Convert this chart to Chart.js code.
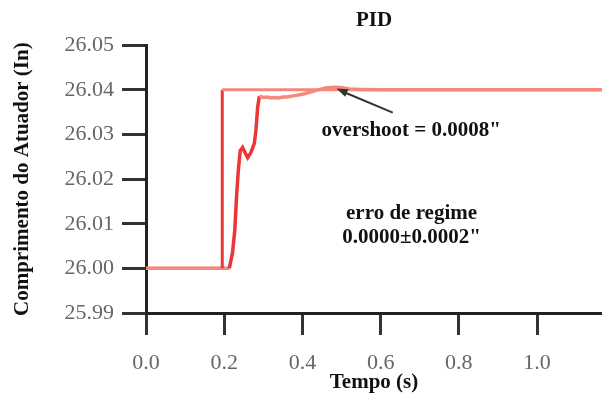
<!DOCTYPE html>
<html><head><meta charset="utf-8">
<script src="https://cdn.jsdelivr.net/npm/chart.js@4/dist/chart.umd.min.js"></script>
<style>html,body{margin:0;padding:0;background:#fff;overflow:hidden}#wrap{width:602px;height:403px;}</style>
</head><body><div id="wrap"><canvas id="c" width="602" height="403"></canvas></div>
<script>
// ---- data ----
const setpointTime  = [0, 0.195, 0.195, 1.166];
const setpointValue = [26.00, 26.00, 26.04, 26.04];

const responseTime  = [0, 0.213, 0.221, 0.227, 0.2315, 0.236, 0.241, 0.247, 0.254, 0.260, 0.2685, 0.277, 0.281, 0.2855, 0.290,
                       0.300, 0.310, 0.320, 0.330, 0.340, 0.350, 0.360, 0.380, 0.400, 0.420, 0.440, 0.460, 0.480, 0.500, 0.520, 0.550, 0.600, 1.166];
const responseValue = [26.000, 26.000, 26.0034, 26.0085, 26.0160, 26.0219, 26.0264, 26.0271, 26.0258, 26.0248, 26.0260, 26.0280, 26.0309, 26.0361, 26.0386,
                       26.0383, 26.0384, 26.0382, 26.0383, 26.0382, 26.0384, 26.0384, 26.0387, 26.0390, 26.0395, 26.0400, 26.0404, 26.0406, 26.0405, 26.0402, 26.0401, 26.0400, 26.0400];

const xTickValues = [0, 0.2, 0.4, 0.6, 0.8, 1.0];
const xTickLabels = ['0.0', '0.2', '0.4', '0.6', '0.8', '1.0'];
const yTickValues = [25.99, 26.00, 26.01, 26.02, 26.03, 26.04, 26.05];
const yTickLabels = ['25.99', '26.00', '26.01', '26.02', '26.03', '26.04', '26.05'];

const titleText = 'PID';
const xTitle = 'Tempo (s)';
const yTitle = 'Comprimento do Atuador (In)';
const overshootText = 'overshoot = 0.0008"';
const erroText1 = 'erro de regime';
const erroText2 = '0.0000\u00B10.0002"';

const SERIF = '"Liberation Serif", "Times New Roman", serif';
const RED = '#ec3535';
const SALMON = '#f4887c';

function toPoints(xs, ys) { return xs.map((x, i) => ({x: x, y: ys[i]})); }
function segColor(ctx) {
  const dx = Math.abs(ctx.p1.x - ctx.p0.x), dy = Math.abs(ctx.p1.y - ctx.p0.y);
  return dy > dx ? RED : SALMON;
}

const annotations = {
  id: 'annotations',
  afterDatasetsDraw(chart) {
    const {ctx, scales: {x, y}} = chart;
    ctx.save();
    // arrow
    const tx = x.getPixelForValue(0.487), ty = y.getPixelForValue(26.0403);
    const sx = x.getPixelForValue(0.631), sy = y.getPixelForValue(26.0349);
    ctx.strokeStyle = '#333'; ctx.fillStyle = '#333'; ctx.lineWidth = 2;
    ctx.beginPath(); ctx.moveTo(sx, sy); ctx.lineTo(tx + 6, ty + 3); ctx.stroke();
    const ang = Math.atan2(ty - sy, tx - sx);
    ctx.beginPath();
    ctx.moveTo(tx, ty);
    ctx.lineTo(tx - 12 * Math.cos(ang - 0.35), ty - 12 * Math.sin(ang - 0.35));
    ctx.lineTo(tx - 12 * Math.cos(ang + 0.35), ty - 12 * Math.sin(ang + 0.35));
    ctx.closePath(); ctx.fill();
    // texts
    ctx.fillStyle = '#111';
    ctx.font = 'bold 21px ' + SERIF;
    ctx.textBaseline = 'middle';
    ctx.textAlign = 'left';
    ctx.fillText(overshootText, x.getPixelForValue(0.449), y.getPixelForValue(26.0309));
    ctx.textAlign = 'center';
    ctx.fillText(erroText1, x.getPixelForValue(0.679), y.getPixelForValue(26.0123));
    ctx.fillText(erroText2, x.getPixelForValue(0.679), y.getPixelForValue(26.0069));
    ctx.restore();
  }
};

new Chart(document.getElementById('c'), {
  type: 'line',
  data: {
    datasets: [
      { label: 'Referência', data: toPoints(setpointTime, setpointValue), borderColor: RED, borderWidth: 3,
        pointRadius: 0, tension: 0, fill: false, segment: { borderColor: segColor } },
      { label: 'Resposta', data: toPoints(responseTime, responseValue), borderColor: SALMON, borderWidth: 3.5,
        pointRadius: 0, tension: 0, fill: false, segment: { borderColor: segColor } }
    ]
  },
  options: {
    responsive: false,
    animation: false,
    devicePixelRatio: 1,
    layout: { padding: { left: 0, right: 0, top: 0, bottom: 0 } },
    plugins: {
      legend: { display: false },
      tooltip: { enabled: false },
      title: { display: true, text: titleText, fullSize: false, color: '#111',
               font: { family: SERIF, size: 21, weight: 'bold' }, padding: { top: 8, bottom: 12 } }
    },
    scales: {
      x: {
        type: 'linear', min: 0, max: 1.166,
        afterBuildTicks(s) { s.ticks = xTickValues.map(v => ({value: v})); },
        afterFit(s) { s.height = 90; },
        border: { display: true, color: '#222', width: 3 },
        grid: { display: true, drawOnChartArea: false, drawTicks: true, tickLength: 22, color: '#333', lineWidth: 3 },
        ticks: { padding: 15, color: '#666', font: { family: SERIF, size: 22 }, maxRotation: 0,
                 callback: (v, i) => xTickLabels[i] },
        title: { display: true, text: xTitle, color: '#111', font: { family: SERIF, size: 21, weight: 'bold' },
                 padding: { top: 0, bottom: 8 } }
      },
      y: {
        type: 'linear', min: 25.99, max: 26.05,
        afterBuildTicks(s) { s.ticks = yTickValues.map(v => ({value: v})); },
        afterFit(s) { s.width = 146; },
        border: { display: true, color: '#222', width: 3 },
        grid: { display: true, drawOnChartArea: false, drawTicks: true, tickLength: 24, color: '#333', lineWidth: 3 },
        ticks: { padding: 8, color: '#666', font: { family: SERIF, size: 22 },
                 callback: (v, i) => yTickLabels[i] },
        title: { display: true, text: yTitle, color: '#111', font: { family: SERIF, size: 21, weight: 'bold' },
                 padding: { top: 10, bottom: 0 } }
      }
    }
  },
  plugins: [annotations]
});
</script>
</body></html>
